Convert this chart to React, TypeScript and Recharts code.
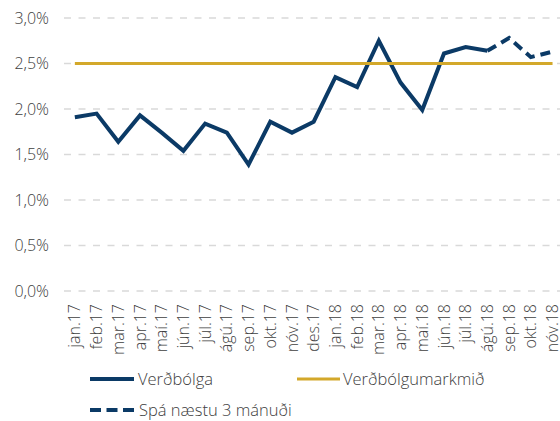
import React from 'react';
import { LineChart, Line, XAxis, YAxis, CartesianGrid, Legend } from 'recharts';

const months = ['jan.17','feb.17','mar.17','apr.17','maí.17','jún.17','júl.17','ágú.17','sep.17','okt.17','nóv.17','des.17','jan.18','feb.18','mar.18','apr.18','maí.18','jún.18','júl.18','ágú.18','sep.18','okt.18','nóv.18'];
const inflation: (number | null)[] = [1.91,1.95,1.64,1.93,1.74,1.54,1.84,1.74,1.39,1.86,1.74,1.86,2.35,2.24,2.75,2.29,1.99,2.61,2.68,2.64,null,null,null];
const forecast: (number | null)[] = [null,null,null,null,null,null,null,null,null,null,null,null,null,null,null,null,null,null,null,2.64,2.78,2.57,2.63];
const target: number[] = [2.5,2.5,2.5,2.5,2.5,2.5,2.5,2.5,2.5,2.5,2.5,2.5,2.5,2.5,2.5,2.5,2.5,2.5,2.5,2.5,2.5,2.5,2.5];
const yTicks = [0, 0.5, 1, 1.5, 2, 2.5, 3];
const boundaryTicks = [0,1,2,3,4,5,6,7,8,9,10,11,12,13,14,15,16,17,18,19,20,21,22,23];

const seriesNames = { inflation: 'Verðbólga', target: 'Verðbólgumarkmið', forecast: 'Spá næstu 3 mánuði' };

const data = months.map((m, i) => ({ m, inflation: inflation[i], forecast: forecast[i], target: target[i] }));

const NAVY = '#0b3a66';
const GOLD = '#d3a82a';
const TEXT = '#404040';
const FONT = '"Open Sans", sans-serif';
const WEIGHT = 300;

const fmt = (v: number) => v.toFixed(1).replace('.', ',') + '%';

const MonthTick = (props: any) => {
  const { x, y, payload } = props;
  return (
    <text
      x={x}
      y={y}
      transform={`rotate(-90, ${x}, ${y})`}
      textAnchor="end"
      dy="0.35em"
      fill={TEXT}
      fontSize={16}
      fontWeight={WEIGHT}
      fontFamily={FONT}
    >
      {payload.value}
    </text>
  );
};

const LegendContent = () => (
  <svg width={560} height={70} style={{ display: 'block' }}>
    <line x1={90} x2={134} y1={28} y2={28} stroke={NAVY} strokeWidth={4} />
    <text x={138} y={28} dy="0.35em" fill={TEXT} fontSize={16.5} fontWeight={WEIGHT} fontFamily={FONT}>{seriesNames.inflation}</text>
    <line x1={297} x2={340} y1={28} y2={28} stroke={GOLD} strokeWidth={3} />
    <text x={343} y={28} dy="0.35em" fill={TEXT} fontSize={16.5} fontWeight={WEIGHT} fontFamily={FONT}>{seriesNames.target}</text>
    <line x1={90} x2={134} y1={59} y2={59} stroke={NAVY} strokeWidth={4} strokeDasharray="11 5.5" />
    <text x={139} y={59} dy="0.35em" fill={TEXT} fontSize={16.5} fontWeight={WEIGHT} fontFamily={FONT}>{seriesNames.forecast}</text>
  </svg>
);

export default function App() {
  return (
    <div style={{ position: 'absolute', left: 0, top: 0, width: 560, height: 421, overflow: 'hidden', background: '#fff' }}>
      <LineChart width={570} height={421} data={data} margin={{ top: 18, right: 6.6, left: 0, bottom: 0 }}>
        <CartesianGrid vertical={false} stroke="#d9d9d9" strokeWidth={1.5} strokeDasharray="7 7.5" />
        <XAxis
          xAxisId="b"
          type="number"
          domain={[0, 23]}
          ticks={boundaryTicks}
          interval={0}
          allowDataOverflow
          tick={false}
          tickSize={5}
          height={0}
          axisLine={{ stroke: '#d9d9d9', strokeWidth: 1.5 }}
          tickLine={{ stroke: '#d9d9d9', strokeWidth: 1.5 }}
        />
        <XAxis
          xAxisId="c"
          dataKey="m"
          scale="band"
          interval={0}
          axisLine={false}
          tickLine={false}
          tickSize={0}
          tickMargin={13}
          height={60}
          tick={<MonthTick />}
        />
        <YAxis
          domain={[0, 3]}
          ticks={yTicks}
          interval={0}
          width={64}
          axisLine={false}
          tickLine={false}
          tickMargin={9}
          tickFormatter={fmt}
          tick={{ fill: TEXT, fontSize: 16, fontWeight: WEIGHT, fontFamily: FONT }}
        />
        <Legend verticalAlign="bottom" height={70} content={<LegendContent />} />
        <Line xAxisId="c" dataKey="inflation" stroke={NAVY} strokeWidth={4} dot={false} isAnimationActive={false} />
        <Line xAxisId="c" dataKey="forecast" stroke={NAVY} strokeWidth={4} strokeDasharray="10 6" dot={false} isAnimationActive={false} />
        <Line xAxisId="c" dataKey="target" stroke={GOLD} strokeWidth={3} dot={false} isAnimationActive={false} />
      </LineChart>
    </div>
  );
}
